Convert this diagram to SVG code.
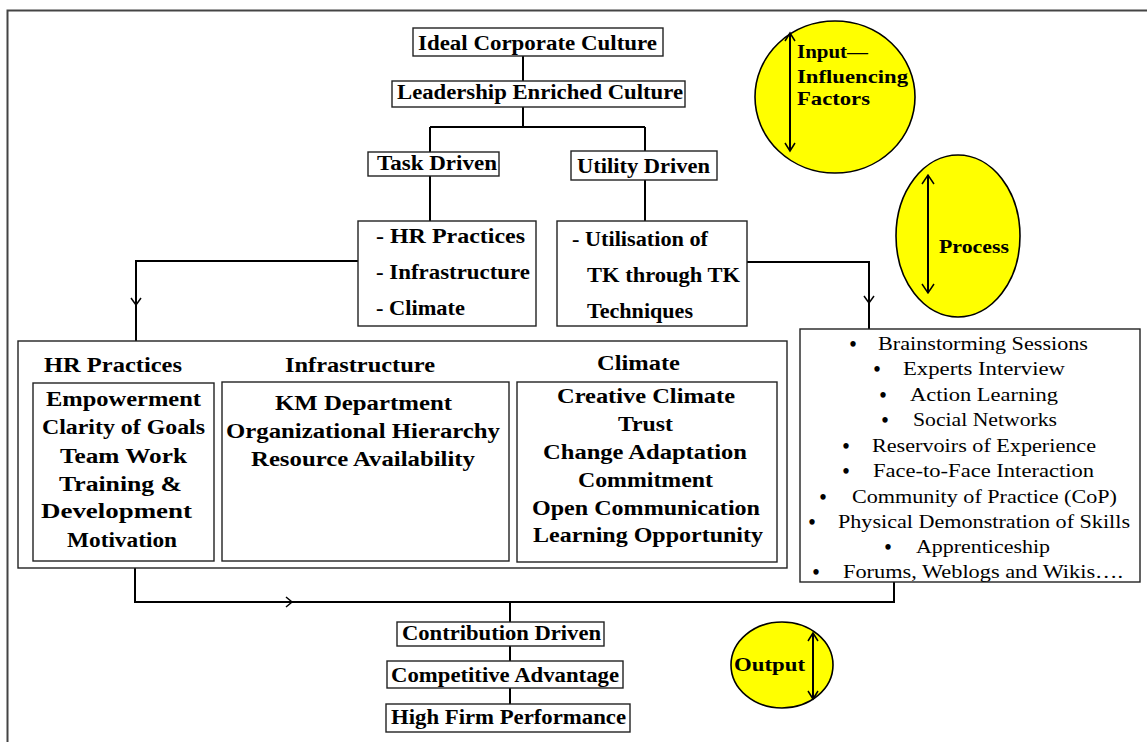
<svg xmlns="http://www.w3.org/2000/svg" width="1147" height="742" viewBox="0 0 1147 742" font-family="'Liberation Serif', 'DejaVu Serif', 'Noto Serif', serif">
<style>
text{font-family:'Liberation Serif','DejaVu Serif','Noto Serif',serif;fill:#000}
.bd{font-size:20px;font-weight:bold}
.mid{font-size:20px;font-weight:bold}
.bul{font-size:18.5px}
.dot{font-size:20px;font-weight:bold;text-anchor:middle}
.ell{font-size:19px;font-weight:bold}
.box{fill:#fff;stroke:#222;stroke-width:1.4}
.con{fill:none;stroke:#000;stroke-width:2}
.chev{fill:none;stroke:#000;stroke-width:1.5}
.oval{fill:#ffff00;stroke:#000;stroke-width:1.6}
</style>
<rect width="1147" height="742" fill="#fff"/>
<g id="frame"><path d="M7.5,742 V10.5 H1147" fill="none" stroke="#444" stroke-width="2"/></g>

<g id="connectors">
<path class="con" d="M523,56 V81"/>
<path class="con" d="M523,107 V127 M430,127 H645 M430,127 V152 M645,127 V151"/>
<path class="con" d="M430,176 V221 M645,180 V221"/>
<path class="con" d="M358,261 H136 V341"/>
<path class="chev" d="M131,298 L136,305 L141,298"/>
<path class="con" d="M747,262 H869 V329"/>
<path class="chev" d="M864,296 L869,303 L874,296"/>
<path class="con" d="M135,568 V602 H894 V582"/>
<path class="chev" d="M286,597 L292,602 L286,607"/>
<path class="con" d="M510,602 V622 M510,646 V661 M510,688 V704"/>
</g>

<g id="ideal"><rect class="box" x="413" y="28" width="250" height="28"/><text class="bd" x="418" y="50" textLength="239" lengthAdjust="spacingAndGlyphs">Ideal Corporate Culture</text></g>
<g id="leadership"><rect class="box" x="392" y="81" width="293" height="26"/><text class="bd" x="397" y="99" textLength="286" lengthAdjust="spacingAndGlyphs">Leadership Enriched Culture</text></g>
<g id="task"><rect class="box" x="368" y="152" width="131" height="24"/><text class="bd" x="377" y="170" textLength="120" lengthAdjust="spacingAndGlyphs">Task Driven</text></g>
<g id="utility"><rect class="box" x="571" y="151" width="146" height="29"/><text class="bd" x="577" y="173" textLength="133" lengthAdjust="spacingAndGlyphs">Utility Driven</text></g>

<g id="task-list"><rect class="box" x="358" y="221" width="178" height="105"/>
<text class="mid" x="376" y="243" textLength="149" lengthAdjust="spacingAndGlyphs">- HR Practices</text>
<text class="mid" x="376" y="279" textLength="154" lengthAdjust="spacingAndGlyphs">- Infrastructure</text>
<text class="mid" x="376" y="315" textLength="89" lengthAdjust="spacingAndGlyphs">- Climate</text></g>

<g id="utility-list"><rect class="box" x="557" y="221" width="190" height="105"/>
<text class="mid" x="572" y="246" textLength="136" lengthAdjust="spacingAndGlyphs">- Utilisation of</text>
<text class="mid" x="587" y="282" textLength="153" lengthAdjust="spacingAndGlyphs">TK through TK</text>
<text class="mid" x="587" y="318" textLength="106" lengthAdjust="spacingAndGlyphs">Techniques</text></g>

<g id="factors"><rect class="box" x="18" y="341" width="769" height="227"/>
<text class="bd" x="44" y="372" textLength="138" lengthAdjust="spacingAndGlyphs">HR Practices</text>
<text class="bd" x="285" y="372" textLength="150" lengthAdjust="spacingAndGlyphs">Infrastructure</text>
<text class="bd" x="597" y="370" textLength="83" lengthAdjust="spacingAndGlyphs">Climate</text></g>

<g id="hr"><rect class="box" x="33" y="383" width="181" height="178"/>
<text class="bd" x="46" y="406" textLength="155" lengthAdjust="spacingAndGlyphs">Empowerment</text>
<text class="bd" x="42" y="434" textLength="163" lengthAdjust="spacingAndGlyphs">Clarity of Goals</text>
<text class="bd" x="60" y="463" textLength="127" lengthAdjust="spacingAndGlyphs">Team Work</text>
<text class="bd" x="59" y="491" textLength="123" lengthAdjust="spacingAndGlyphs">Training &amp;</text>
<text class="bd" x="41" y="518" textLength="151" lengthAdjust="spacingAndGlyphs">Development</text>
<text class="bd" x="67" y="547" textLength="110" lengthAdjust="spacingAndGlyphs">Motivation</text></g>

<g id="infra"><rect class="box" x="222" y="382" width="287" height="179"/>
<text class="bd" x="275" y="410" textLength="177" lengthAdjust="spacingAndGlyphs">KM Department</text>
<text class="bd" x="226" y="438" textLength="274" lengthAdjust="spacingAndGlyphs">Organizational Hierarchy</text>
<text class="bd" x="251" y="466" textLength="224" lengthAdjust="spacingAndGlyphs">Resource Availability</text></g>

<g id="climate"><rect class="box" x="517" y="382" width="260" height="180"/>
<text class="bd" x="557" y="403" textLength="178" lengthAdjust="spacingAndGlyphs">Creative Climate</text>
<text class="bd" x="618" y="431" textLength="55" lengthAdjust="spacingAndGlyphs">Trust</text>
<text class="bd" x="543" y="459" textLength="204" lengthAdjust="spacingAndGlyphs">Change Adaptation</text>
<text class="bd" x="578" y="487" textLength="135" lengthAdjust="spacingAndGlyphs">Commitment</text>
<text class="bd" x="532" y="515" textLength="228" lengthAdjust="spacingAndGlyphs">Open Communication</text>
<text class="bd" x="533" y="542" textLength="230" lengthAdjust="spacingAndGlyphs">Learning Opportunity</text></g>

<g id="techniques"><rect class="box" x="800" y="329" width="340" height="253"/>
<text class="dot" x="853" y="351">•</text><text class="bul" x="878" y="350" textLength="210" lengthAdjust="spacingAndGlyphs">Brainstorming Sessions</text>
<text class="dot" x="877" y="376">•</text><text class="bul" x="903" y="375" textLength="162" lengthAdjust="spacingAndGlyphs">Experts Interview</text>
<text class="dot" x="883" y="402">•</text><text class="bul" x="910" y="401" textLength="148" lengthAdjust="spacingAndGlyphs">Action Learning</text>
<text class="dot" x="885" y="427">•</text><text class="bul" x="913" y="426" textLength="144" lengthAdjust="spacingAndGlyphs">Social Networks</text>
<text class="dot" x="846" y="453">•</text><text class="bul" x="872" y="452" textLength="224" lengthAdjust="spacingAndGlyphs">Reservoirs of Experience</text>
<text class="dot" x="846" y="478">•</text><text class="bul" x="873" y="477" textLength="221" lengthAdjust="spacingAndGlyphs">Face-to-Face Interaction</text>
<text class="dot" x="823" y="504">•</text><text class="bul" x="852" y="503" textLength="265" lengthAdjust="spacingAndGlyphs">Community of Practice (CoP)</text>
<text class="dot" x="812" y="529">•</text><text class="bul" x="838" y="528" textLength="292" lengthAdjust="spacingAndGlyphs">Physical Demonstration of Skills</text>
<text class="dot" x="888" y="554">•</text><text class="bul" x="916" y="553" textLength="134" lengthAdjust="spacingAndGlyphs">Apprenticeship</text>
<text class="dot" x="816" y="579">•</text><text class="bul" x="843" y="578" textLength="280" lengthAdjust="spacingAndGlyphs">Forums, Weblogs and Wikis….</text></g>

<g id="contribution"><rect class="box" x="397" y="622" width="207" height="24"/><text class="bd" x="402" y="640" textLength="199" lengthAdjust="spacingAndGlyphs">Contribution Driven</text></g>
<g id="competitive"><rect class="box" x="387" y="661" width="236" height="27"/><text class="bd" x="391" y="682" textLength="228" lengthAdjust="spacingAndGlyphs">Competitive Advantage</text></g>
<g id="performance"><rect class="box" x="386" y="704" width="244" height="28"/><text class="bd" x="391" y="724" textLength="235" lengthAdjust="spacingAndGlyphs">High Firm Performance</text></g>

<g id="input-oval"><ellipse class="oval" cx="835" cy="97" rx="80" ry="76"/>
<path class="con" d="M790,34 V150"/><path class="chev" d="M785,41 L790,33 L795,41 M785,143 L790,151 L795,143"/>
<text class="ell" x="797" y="58" textLength="71" lengthAdjust="spacingAndGlyphs">Input—</text>
<text class="ell" x="797" y="83" textLength="111" lengthAdjust="spacingAndGlyphs">Influencing</text>
<text class="ell" x="797" y="105" textLength="73" lengthAdjust="spacingAndGlyphs">Factors</text></g>

<g id="process-oval"><ellipse class="oval" cx="958" cy="236" rx="62" ry="81"/>
<path class="con" d="M928,176 V292"/><path class="chev" d="M922,184 L928,175 L934,184 M922,284 L928,293 L934,284"/>
<text class="ell" x="939" y="253" textLength="70" lengthAdjust="spacingAndGlyphs">Process</text></g>

<g id="output-oval"><ellipse class="oval" cx="782" cy="665" rx="51" ry="43"/>
<path class="con" d="M813,634 V698"/><path class="chev" d="M808,641 L813,633 L818,641 M808,691 L813,699 L818,691"/>
<text class="ell" x="734" y="671" textLength="71" lengthAdjust="spacingAndGlyphs">Output</text></g>
</svg>
